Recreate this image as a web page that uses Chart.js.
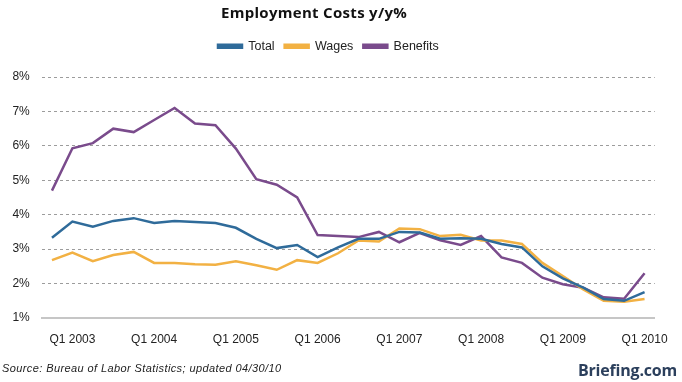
<!DOCTYPE html>
<html>
<head>
<meta charset="utf-8">
<script src="https://cdn.jsdelivr.net/npm/chart.js@4"></script>
<style>
  body { margin: 0; background: #fff; }
  #wrap { position: relative; width: 682px; height: 382px; }
  #title { position: absolute; left: 0; top: 2px; width: 628px; text-align: center;
    font: bold 15px "Open Sans", sans-serif; color: #111; letter-spacing: 0.3px; }
  #source { position: absolute; left: 2px; top: 362px;
    font: italic 11px "Liberation Sans", sans-serif; color: #222; letter-spacing: 0.4px; }
  #brand { position: absolute; left: 578px; top: 359px;
    font: bold 16px "Open Sans", sans-serif; color: #2b3f5c; letter-spacing: -0.2px; }
</style>
</head>
<body>
<div id="wrap">
  <canvas id="chart" width="682" height="382"></canvas>
  <div id="title">Employment Costs y/y%</div>
  <div id="source">Source: Bureau of Labor Statistics; updated 04/30/10</div>
  <div id="brand">Briefing.com</div>
</div>
<script>
// quarters, Q4 2002 .. Q1 2010
const quarters = [
  "Q4 2002",
  "Q1 2003", "Q2 2003", "Q3 2003", "Q4 2003",
  "Q1 2004", "Q2 2004", "Q3 2004", "Q4 2004",
  "Q1 2005", "Q2 2005", "Q3 2005", "Q4 2005",
  "Q1 2006", "Q2 2006", "Q3 2006", "Q4 2006",
  "Q1 2007", "Q2 2007", "Q3 2007", "Q4 2007",
  "Q1 2008", "Q2 2008", "Q3 2008", "Q4 2008",
  "Q1 2009", "Q2 2009", "Q3 2009", "Q4 2009",
  "Q1 2010"
];

const total = [
  3.33, 3.8, 3.65, 3.82, 3.9, 3.76, 3.82, 3.79, 3.76, 3.62,
  3.3, 3.03, 3.12, 2.77, 3.05, 3.3, 3.3, 3.5, 3.48, 3.3,
  3.32, 3.3, 3.15, 3.05, 2.5, 2.15, 1.88, 1.55, 1.5, 1.75
];

const wages = [
  2.68, 2.9, 2.65, 2.83, 2.92, 2.6, 2.6, 2.56, 2.55, 2.65,
  2.53, 2.4, 2.68, 2.6, 2.88, 3.25, 3.22, 3.6, 3.58, 3.38,
  3.42, 3.25, 3.25, 3.15, 2.6, 2.22, 1.83, 1.5, 1.47, 1.55
];

const benefits = [
  4.7, 5.93, 6.08, 6.5, 6.4, 6.75, 7.1, 6.65, 6.6, 5.92,
  5.03, 4.87, 4.5, 3.41, 3.38, 3.35, 3.5, 3.2, 3.47, 3.26,
  3.12, 3.38, 2.76, 2.6, 2.17, 1.98, 1.88, 1.6, 1.56, 2.3
];

const yTicks = [1, 2, 3, 4, 5, 6, 7, 8];

const legendFit = {
  id: "legendFit",
  beforeInit(chart) {
    const fit = chart.legend.fit;
    chart.legend.fit = function () {
      fit.bind(chart.legend)();
      this.height = 47;
    };
  }
};

function line(label, data, color) {
  return {
    label: label, data: data,
    borderColor: color, backgroundColor: color,
    borderWidth: 2.5, pointRadius: 0, tension: 0, fill: false
  };
}

new Chart(document.getElementById("chart"), {
  type: "line",
  data: {
    labels: quarters,
    datasets: [
      line("Total", total, "#2f6b9a"),
      line("Wages", wages, "#f2b143"),
      line("Benefits", benefits, "#7a4b8c")
    ]
  },
  plugins: [legendFit],
  options: {
    responsive: false,
    animation: false,
    layout: { padding: { top: 30, left: 0, right: 25.25, bottom: 30 } },
    plugins: {
      title: { display: false },
      tooltip: { enabled: false },
      legend: {
        position: "top",
        labels: {
          boxWidth: 24, boxHeight: 3, padding: 10,
          color: "#222",
          font: { family: "Liberation Sans", size: 12.5 }
        }
      }
    },
    scales: {
      x: {
        offset: true,
        grid: { display: false, drawTicks: false },
        border: { display: true, color: "#c6c6c6", width: 2 },
        afterFit: s => { s.height = 34; },
        ticks: {
          autoSkip: false, maxRotation: 0, padding: 14,
          color: "#222",
          font: { family: "Liberation Sans", size: 12 },
          callback: function (v, i) {
            const l = this.getLabelForValue(v);
            return l.startsWith("Q1") ? l : "";
          }
        }
      },
      y: {
        min: 1, max: 8,
        afterFit: s => { s.width = 41.75; },
        afterBuildTicks: s => { s.ticks = yTicks.map(v => ({ value: v })); },
        border: { display: false, dash: [3, 3] },
        grid: {
          drawTicks: false,
          color: c => c.tick.value === 1 ? "rgba(0,0,0,0)" : "#9c9c9c",
          lineWidth: 1
        },
        ticks: {
          padding: 12,
          color: "#222",
          font: { family: "Liberation Sans", size: 12 },
          callback: v => v + "%"
        }
      }
    }
  }
});
</script>
</body>
</html>
